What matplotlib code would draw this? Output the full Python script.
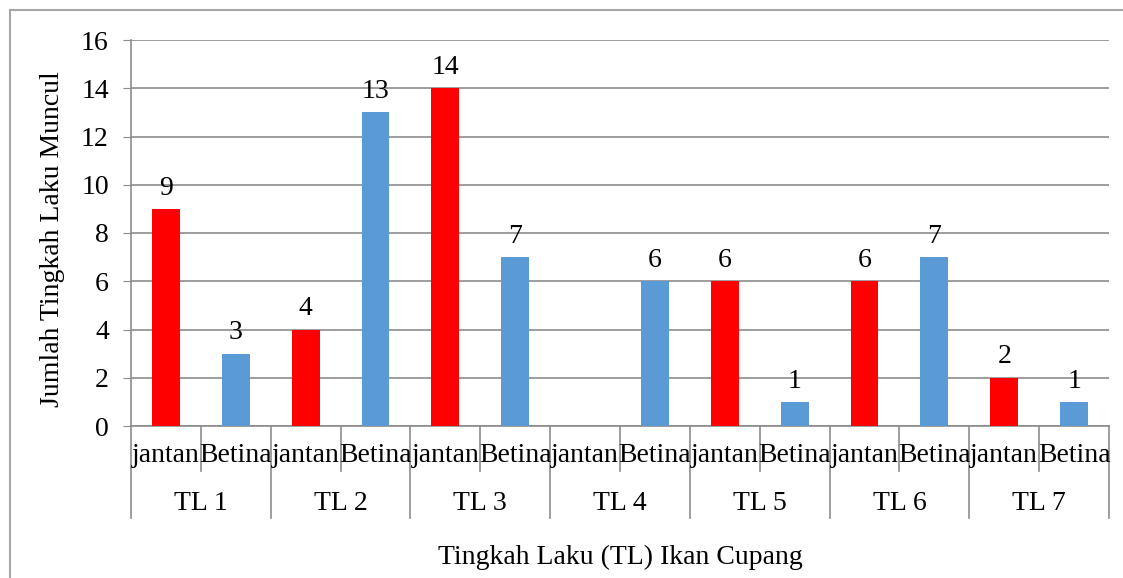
import matplotlib.pyplot as plt
from matplotlib.lines import Line2D

# data
groups = ["TL 1", "TL 2", "TL 3", "TL 4", "TL 5", "TL 6", "TL 7"]
sexes = ["jantan", "Betina"]
jantan = [9, 4, 14, 0, 6, 6, 2]
betina = [3, 13, 7, 6, 1, 7, 1]

red = "#FF0000"
blue = "#5B9BD5"
grid_c = "#8C8C8C"

plt.rcParams["font.family"] = ["Liberation Serif", "DejaVu Serif"]
fs = 20

fig = plt.figure(figsize=(11.23, 5.78), dpi=100)
ax = fig.add_axes([131 / 1123, 152 / 578, 978 / 1123, 386 / 578])

values = []
colors = []
for j, b in zip(jantan, betina):
    values += [j, b]
    colors += [red, blue]
x = list(range(len(values)))

ax.bar(x, values, width=0.4, color=colors, zorder=3)
for xi, v in zip(x, values):
    if v > 0:
        ax.annotate(str(v), (xi, v), xytext=(0, 6), textcoords="offset points",
                    ha="center", va="bottom", fontsize=fs)

ax.set_xlim(-0.5, len(values) - 0.5)
ax.set_ylim(0, 16)
ax.set_yticks(range(0, 17, 2))
ax.tick_params(axis="y", labelsize=fs, length=6, color=grid_c, pad=10)
ax.tick_params(axis="x", length=0, labelbottom=False)
ax.yaxis.grid(True, color=grid_c, linewidth=1.2, zorder=0)
for s in ["top", "right"]:
    ax.spines[s].set_visible(False)
ax.spines["left"].set_color(grid_c)
ax.spines["bottom"].set_color(grid_c)
ax.spines["left"].set_linewidth(1.2)
ax.spines["bottom"].set_linewidth(1.2)

# multi-level category axis
tr = ax.get_xaxis_transform()
px = 1 / 386
for xi in x:
    ax.text(xi, -30 * px, sexes[xi % 2], transform=tr, ha="center", va="center",
            fontsize=fs, clip_on=False)
for gi, g in enumerate(groups):
    ax.text(gi * 2 + 0.5, -77 * px, g, transform=tr, ha="center", va="center",
            fontsize=fs, clip_on=False)
for k in range(len(values) + 1):
    edge = k - 0.5
    low = -92 * px if k % 2 == 0 else -45 * px
    ax.add_line(Line2D([edge, edge], [0, low], transform=tr, color=grid_c,
                       linewidth=1.2, clip_on=False))

ax.text(0.5, -131 * px, "Tingkah Laku (TL) Ikan Cupang", transform=ax.transAxes,
        ha="center", va="center", fontsize=fs)
ax.set_ylabel("Jumlah Tingkah Laku Muncul", fontsize=fs)
ax.yaxis.set_label_coords(-66 / 978, 0.484)

# chart border
fig.add_artist(Line2D([10 / 1123, 10 / 1123], [0, 1 - 10 / 578], color="#A6A6A6",
                      linewidth=1.5, transform=fig.transFigure))
fig.add_artist(Line2D([10 / 1123, 1], [1 - 10 / 578, 1 - 10 / 578], color="#A6A6A6",
                      linewidth=1.5, transform=fig.transFigure))

fig.savefig("out.png", dpi=100)
